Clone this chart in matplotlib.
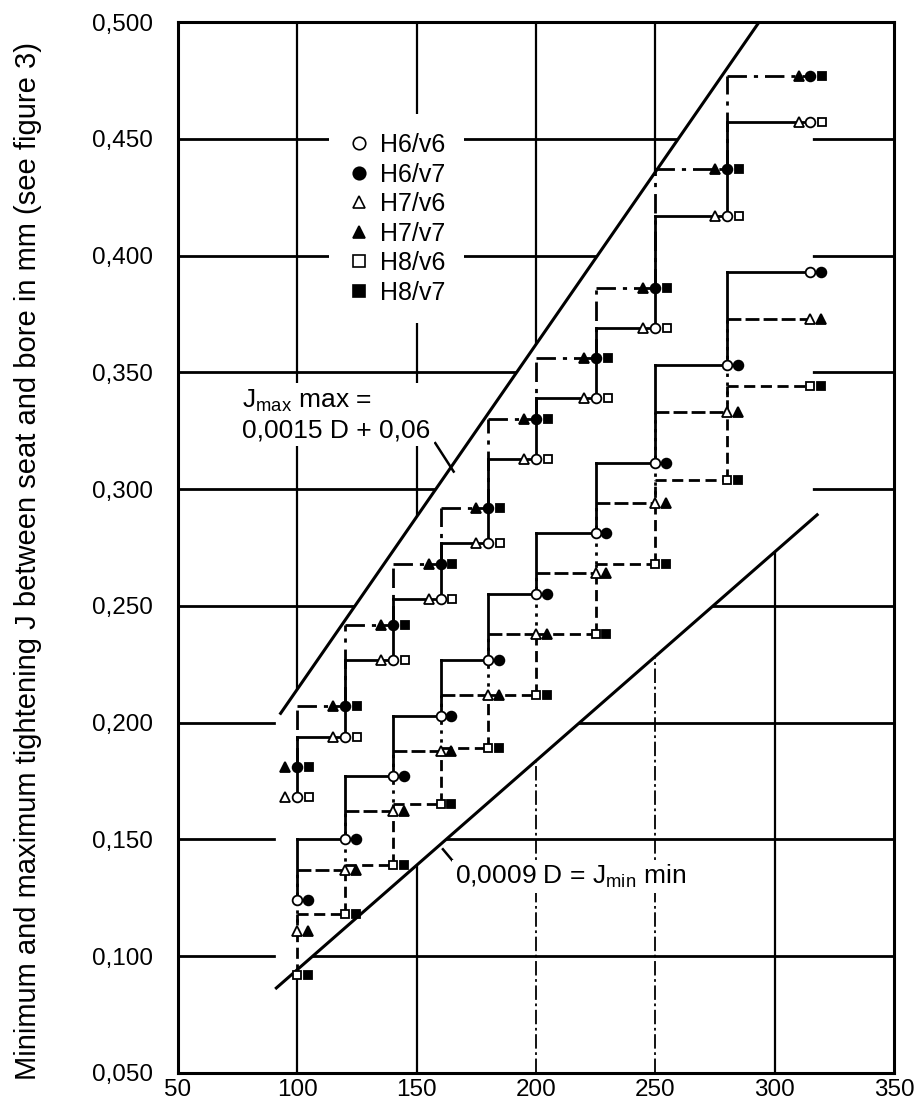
import matplotlib
matplotlib.use("Agg")
import matplotlib.pyplot as plt
from matplotlib.lines import Line2D
from matplotlib.patches import Polygon
import numpy as np

plt.rcParams['font.family'] = ['Liberation Sans', 'DejaVu Sans']
plt.rcParams['mathtext.fontset'] = 'custom'
plt.rcParams['mathtext.rm'] = 'Liberation Sans'

# upper bound of each diameter range D
D = [100, 120, 140, 160, 180, 200, 225, 250, 280, 315]

# max tightening, only the shaft matters (v6 / v7)
jmax_v6 = [0.168, 0.194, 0.227, 0.253, 0.277, 0.313, 0.339, 0.369, 0.417, 0.457]
jmax_v7 = [0.181, 0.207, 0.242, 0.268, 0.292, 0.330, 0.356, 0.386, 0.437, 0.477]

# min tightening, only the bore matters (H6 / H7 / H8)
jmin_H6 = [0.124, 0.150, 0.177, 0.203, 0.227, 0.255, 0.281, 0.311, 0.353, 0.393]
jmin_H7 = [0.111, 0.137, 0.162, 0.188, 0.212, 0.238, 0.264, 0.294, 0.333, 0.373]
jmin_H8 = [0.092, 0.118, 0.139, 0.165, 0.189, 0.212, 0.238, 0.268, 0.304, 0.344]

# the two straight limit lines (end points)
jmax_line_x = [93, 293.5]
jmax_line_y = [0.204, 0.5]
jmin_line_x = [91.2, 317.8]
jmin_line_y = [0.0864, 0.289]

xticks = [50, 100, 150, 200, 250, 300, 350]
yticks = [0.05, 0.10, 0.15, 0.20, 0.25, 0.30, 0.35, 0.40, 0.45, 0.50]
ytick_labels = ['0,050', '0,100', '0,150', '0,200', '0,250', '0,300',
                '0,350', '0,400', '0,450', '0,500']
legend_labels = ['H6/v6', 'H6/v7', 'H7/v6', 'H7/v7', 'H8/v6', 'H8/v7']
legend_markers = ['o', 'o', '^', '^', 's', 's']
legend_filled = [False, True, False, True, False, True]


def line_at(xs, ys, x):
    k = (ys[1] - ys[0]) / (xs[1] - xs[0])
    return ys[0] + k * (x - xs[0])


fig = plt.figure(figsize=(9.14, 11.02), dpi=100)
ax = fig.add_axes([178/914, 1 - 1073/1102, 716/914, 1051/1102])
ax.set_xlim(50, 350)
ax.set_ylim(0.05, 0.5)

# grid (drawn by hand, partly erased later like the original)
ax.hlines(yticks[1:-1], 50, 350, color='k', lw=2.0, zorder=1)
for x in xticks[1:-1]:
    lo = line_at(jmin_line_x, jmin_line_y, x)
    if x in (200, 250):
        ax.vlines(x, lo, 0.5, color='k', lw=1.6, zorder=1)
        ax.vlines(x, 0.05, lo, color='k', lw=1.3, zorder=1,
                  linestyles=[(0, (8, 2, 1.5, 2))])
    else:
        ax.vlines(x, 0.05, 0.5, color='k', lw=1.6, zorder=1)

# white band between the two limit lines
xl, xr = 91, 316
band = [(xl, line_at(jmin_line_x, jmin_line_y, xl)),
        (xl, line_at(jmax_line_x, jmax_line_y, xl)),
        (jmax_line_x[1], 0.5), (xr, 0.5),
        (xr, line_at(jmin_line_x, jmin_line_y, xr))]
ax.add_patch(Polygon(band, closed=True, fc='white', ec='none', zorder=1.5))

ax.plot(jmax_line_x, jmax_line_y, color='k', lw=2.2, zorder=3)
ax.plot(jmin_line_x, jmin_line_y, color='k', lw=2.2, zorder=3)


def steps(levels, hstyle, vstyle):
    for i in range(1, len(D)):
        ax.plot([D[i-1], D[i]], [levels[i], levels[i]], color='k', lw=2.0,
                ls=hstyle, zorder=2.5)
        ax.plot([D[i-1], D[i-1]], [levels[i-1], levels[i]], color='k', lw=2.0,
                ls=vstyle, zorder=2.5)


dashdot = (0, (7, 2.5, 1.5, 2.5))
steps(jmax_v6, '-', '-')
steps(jmax_v7, dashdot, dashdot)
steps(jmin_H6, '-', '-')
steps(jmin_H7, (0, (5, 1.5)), (0, (1.2, 2)))
steps(jmin_H8, (0, (4, 2)), (0, (4, 2)))

Dn = np.array(D, dtype=float)


def marks(xs, ys, m, filled, ms):
    ax.plot(xs, ys, ls='none', marker=m, ms=ms, mec='k', mew=1.3,
            mfc='k' if filled else 'white', zorder=4)


# max group: triangle, circle, square side by side
marks(Dn - 5, jmax_v6, '^', False, 7)
marks(Dn, jmax_v6, 'o', False, 7)
marks(Dn + 5, jmax_v6, 's', False, 6)
marks(Dn - 5, jmax_v7, '^', True, 7)
marks(Dn, jmax_v7, 'o', True, 7)
marks(Dn + 5, jmax_v7, 's', True, 6)
# min group: open then filled
marks(Dn, jmin_H6, 'o', False, 7)
marks(Dn + 4.5, jmin_H6, 'o', True, 7)
marks(Dn, jmin_H7, '^', False, 7)
marks(Dn + 4.5, jmin_H7, '^', True, 7)
marks(Dn, jmin_H8, 's', False, 6)
marks(Dn + 4.5, jmin_H8, 's', True, 6)

# annotations
ax.text(77, 0.3317, 'J$_{\\mathrm{max}}$ max =\n0,0015 D + 0,06', fontsize=19,
        ha='left', va='center', linespacing=1.25, zorder=5,
        bbox=dict(fc='white', ec='none', pad=2))
ax.plot([157.8, 165.5], [0.3197, 0.3075], color='k', lw=1.8, zorder=3)
ax.text(166, 0.1342, '0,0009 D = J$_{\\mathrm{min}}$ min', fontsize=19,
        ha='left', va='center', zorder=5,
        bbox=dict(fc='white', ec='none', pad=2))
ax.plot([161, 167], [0.1458, 0.1385], color='k', lw=1.8, zorder=3)

handles = [Line2D([], [], ls='none', marker=m, ms=9, mec='k', mew=1.2,
                  mfc='k' if f else 'white')
           for m, f in zip(legend_markers, legend_filled)]
leg = ax.legend(handles, legend_labels, loc='upper left',
                bbox_to_anchor=(0.211, 0.912), borderaxespad=0, fontsize=18,
                frameon=True, handlelength=0.9, handletextpad=0.4,
                labelspacing=0.22, borderpad=0.75, fancybox=False)
leg.get_frame().set_edgecolor('none')
leg.get_frame().set_facecolor('white')
leg.get_frame().set_alpha(1)
leg.set_zorder(5)

ax.set_xticks(xticks)
ax.set_yticks(yticks)
ax.set_yticklabels(ytick_labels)
ax.tick_params(length=0, labelsize=17.5)
ax.tick_params(axis='y', pad=18)
ax.tick_params(axis='x', pad=4)
for s in ax.spines.values():
    s.set_linewidth(2.2)
    s.set_zorder(6)

fig.text(28/914, 1 - 561/1102,
         'Minimum and maximum tightening J between seat and bore in mm (see figure 3)',
         rotation=90, ha='center', va='center', fontsize=21)

fig.savefig('out.png', dpi=100)
